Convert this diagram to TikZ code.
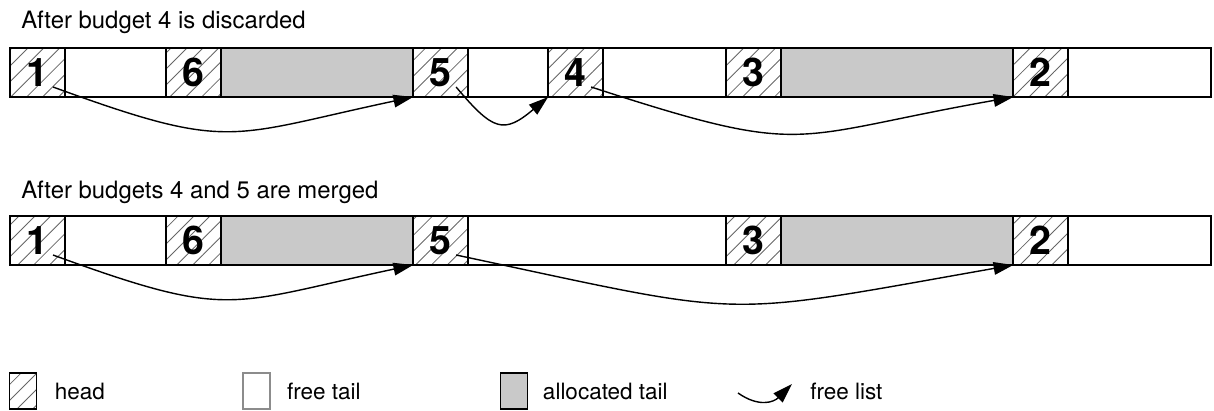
\documentclass[tikz,border=0pt]{standalone}
\usepackage{fontspec}
\setmainfont{TeX Gyre Heros}
\usetikzlibrary{arrows.meta,positioning,calc,patterns.meta}

\tikzset{
  cell/.style={draw, line width=1.2pt, minimum height=1.225cm, inner sep=0pt, outer sep=0pt, anchor=west},
  headcell/.style={cell, minimum width=1.375cm, pattern={Lines[angle=45,distance=8pt,line width=0.6pt]}, pattern color=black!60, font=\fontsize{28}{28}\selectfont\bfseries},
  freecell/.style={cell, fill=white},
  usedcell/.style={cell, fill=black!21},
  link/.style={-{Triangle[length=14pt,width=9pt]}, line width=1pt},
  caption/.style={anchor=base west, font=\fontsize{17}{17}\selectfont, inner sep=0pt},
  keybox/.style={minimum width=0.675cm, minimum height=0.9cm, inner sep=0pt, outer sep=0pt, line width=1pt},
  keytext/.style={font=\fontsize{16}{16}\selectfont, inner sep=0pt, anchor=west},
}

\begin{document}
\begin{tikzpicture}[x=0.025cm, y=0.025cm]
    \useasboundingbox (0,0) rectangle (1214,410);

    % After discard
    \node[caption] (cap1) at (21,382) {After budget 4 is discarded};
    \node[headcell] (h1) at (10,337.5) {1};
    \node[freecell, minimum width=2.525cm, right=0pt of h1] (f1) {};
    \node[headcell, right=0pt of f1] (h6) {6};
    \node[usedcell, minimum width=4.8cm, right=0pt of h6] (a6) {};
    \node[headcell, right=0pt of a6] (h5) {5};
    \node[freecell, minimum width=2cm, right=0pt of h5] (f5) {};
    \node[headcell, right=0pt of f5] (h4) {4};
    \node[freecell, minimum width=3.075cm, right=0pt of h4] (f4) {};
    \node[headcell, right=0pt of f4] (h3) {3};
    \node[usedcell, minimum width=5.8cm, right=0pt of h3] (a3) {};
    \node[headcell, right=0pt of a3] (h2) {2};
    \node[freecell, minimum width=3.575cm, right=0pt of h2] (f2) {};

    \draw[link] ($(h1.south east)+(-0.3cm,0.25cm)$) to[out=-20, in=192, looseness=1.35] (h5.south west);
    \draw[link] ($(h5.south east)+(-0.3cm,0.25cm)$) to[out=-50, in=220, looseness=1.6] (h4.south west);
    \draw[link] ($(h4.south east)+(-0.3cm,0.25cm)$) to[out=-18, in=190, looseness=1.4] (h2.south west);

    % After merge
    \node[caption] (cap2) at (21,212) {After budgets 4 and 5 are merged};
    \node[headcell] (mh1) at (10,169.5) {1};
    \node[freecell, minimum width=2.525cm, right=0pt of mh1] (mf1) {};
    \node[headcell, right=0pt of mf1] (mh6) {6};
    \node[usedcell, minimum width=4.8cm, right=0pt of mh6] (ma6) {};
    \node[headcell, right=0pt of ma6] (mh5) {5};
    \node[freecell, minimum width=6.45cm, right=0pt of mh5] (mf5) {};
    \node[headcell, right=0pt of mf5] (mh3) {3};
    \node[usedcell, minimum width=5.8cm, right=0pt of mh3] (ma3) {};
    \node[headcell, right=0pt of ma3] (mh2) {2};
    \node[freecell, minimum width=3.575cm, right=0pt of mh2] (mf2) {};

    \draw[link] ($(mh1.south east)+(-0.3cm,0.25cm)$) to[out=-20, in=192, looseness=1.35] (mh5.south west);
    \draw[link] ($(mh5.south east)+(-0.3cm,0.25cm)$) to[out=-12, in=190, looseness=1.4] (mh2.south west);

    % Legend
    \node[keybox, draw=black, pattern={Lines[angle=45,distance=8pt,line width=0.6pt]}, pattern color=black!60] (khead) at (23,19) {};
    \node[keytext, right=0.45cm of khead] (thead) {head};
    \node[keybox, draw=black!45, fill=white] (kfree) at (256.5,19) {};
    \node[keytext, right=0.42cm of kfree] (tfree) {free tail};
    \node[keybox, draw=black, fill=black!21] (kused) at (514,19) {};
    \node[keytext, right=0.38cm of kused] (tused) {allocated tail};
    \coordinate (klist) at (738,17);
    \coordinate (klistend) at (792,26);
    \draw[link] (klist) to[out=-35, in=225, looseness=1.2] (klistend);
    \node[keytext] (tlist) at (810,19) {free list};
\end{tikzpicture}
\end{document}
